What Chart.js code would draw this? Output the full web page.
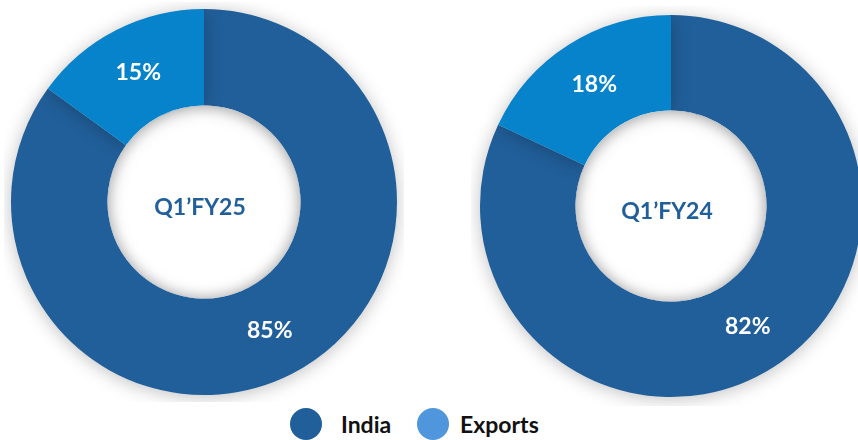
<!DOCTYPE html>
<html>
<head>
<meta charset="utf-8">
<script src="https://cdn.jsdelivr.net/npm/chart.js@4.4.1/dist/chart.umd.min.js"></script>
<style>
    html, body { margin: 0; padding: 0; background: #ffffff; overflow: hidden; }
    #page { position: relative; width: 858px; height: 440px; overflow: hidden; font-family: Lato, "Open Sans", sans-serif; }
    .box { position: absolute; width: 400px; height: 400px; }
    #box-fy25 { left: 4px; top: 2px; }
    #box-fy24 { left: 471px; top: 6px; }
    #legend { position: absolute; left: 0; top: 408px; width: 858px; height: 32px; }
    .dot { position: absolute; top: 0; width: 32px; height: 32px; border-radius: 50%; }
    .name { position: absolute; top: 0; line-height: 32px; font-weight: 700; font-size: 23px; color: #111111; }
</style>
</head>
<body>
<div id="page">
    <div class="box" id="box-fy25"><canvas id="donut-fy25"></canvas></div>
    <div class="box" id="box-fy24"><canvas id="donut-fy24"></canvas></div>
    <div id="legend"></div>
</div>
<script>
    // data
    var categories = ["India", "Exports"];
    var shareFY25 = [85, 15];
    var shareFY24 = [82, 18];
    var periodLabels = ["Q1\u2019FY25", "Q1\u2019FY24"];

    function sliceColors() {
        return ["#215F9A", "#0683CA"];
    }

    function legendColors() {
        return ["#215F9A", "#4F96DC"];
    }

    // soft grey shadow under the ring
    var ringShadow = {
        id: 'ringShadow',
        beforeDatasetsDraw: function(chart) {
            var ctx = chart.ctx;
            ctx.save();
            ctx.shadowColor = 'rgba(0,0,0,0.25)';
            ctx.shadowBlur = 18;
            ctx.shadowOffsetY = 2;
        },
        afterDatasetsDraw: function(chart) {
            chart.ctx.restore();
            // inner shadow in the hole
            var arc = chart.getDatasetMeta(0).data[0];
            var ctx = chart.ctx;
            ctx.save();
            ctx.beginPath();
            ctx.arc(arc.x, arc.y, arc.innerRadius, 0, Math.PI * 2);
            ctx.clip();
            ctx.beginPath();
            ctx.arc(arc.x, arc.y, arc.innerRadius + 10, 0, Math.PI * 2);
            ctx.lineWidth = 20;
            ctx.strokeStyle = '#ffffff';
            ctx.shadowColor = 'rgba(0,0,0,0.2)';
            ctx.shadowBlur = 14;
            ctx.stroke();
            ctx.restore();
        }
    };

    // percent labels on the slices and period in the middle
    var sliceText = {
        id: 'sliceText',
        afterDraw: function(chart) {
            var ctx = chart.ctx;
            var meta = chart.getDatasetMeta(0);
            var values = chart.data.datasets[0].data;
            ctx.save();
            ctx.textAlign = 'center';
            ctx.textBaseline = 'middle';
            ctx.font = 'bold 23px Lato, "Open Sans", sans-serif';
            ctx.fillStyle = '#ffffff';
            meta.data.forEach(function(arc, i) {
                var pos = arc.tooltipPosition();
                ctx.fillText(values[i] + '%', pos.x, pos.y);
            });
            var first = meta.data[0];
            ctx.fillStyle = '#215F9A';
            ctx.fillText(chart.options.plugins.centerLabel, first.x - 4, first.y + 6);
            ctx.restore();
        }
    };

    function donutGraph(id, dataset, label, pad) {
        let ctx = document.getElementById(id);

        var donutChart = new Chart(ctx, {
            type: 'doughnut',
            data: {
                labels: categories,
                datasets: [{
                    data: dataset,
                    backgroundColor: sliceColors(),
                    borderWidth: 0
                }]
            },
            options: {
                responsive: true,
                maintainAspectRatio: false,
                animation: false,
                cutout: '50%',
                layout: { padding: pad },
                plugins: {
                    legend: { display: false },
                    tooltip: { enabled: false },
                    centerLabel: label
                }
            },
            plugins: [ringShadow, sliceText]
        });
        return donutChart;
    }

    function buildLegend() {
        var box = document.getElementById('legend');
        var colors = legendColors();
        var dotLeft = [290, 417];
        var textLeft = [341, 460];
        categories.forEach(function(name, i) {
            var dot = document.createElement('span');
            dot.className = 'dot';
            dot.style.left = dotLeft[i] + 'px';
            dot.style.background = colors[i];
            box.appendChild(dot);
            var txt = document.createElement('span');
            txt.className = 'name';
            txt.style.left = textLeft[i] + 'px';
            txt.textContent = name;
            box.appendChild(txt);
        });
    }

    donutGraph('donut-fy25', shareFY25, periodLabels[0], 7);
    donutGraph('donut-fy24', shareFY24, periodLabels[1], 9);
    buildLegend();
</script>
</body>
</html>
